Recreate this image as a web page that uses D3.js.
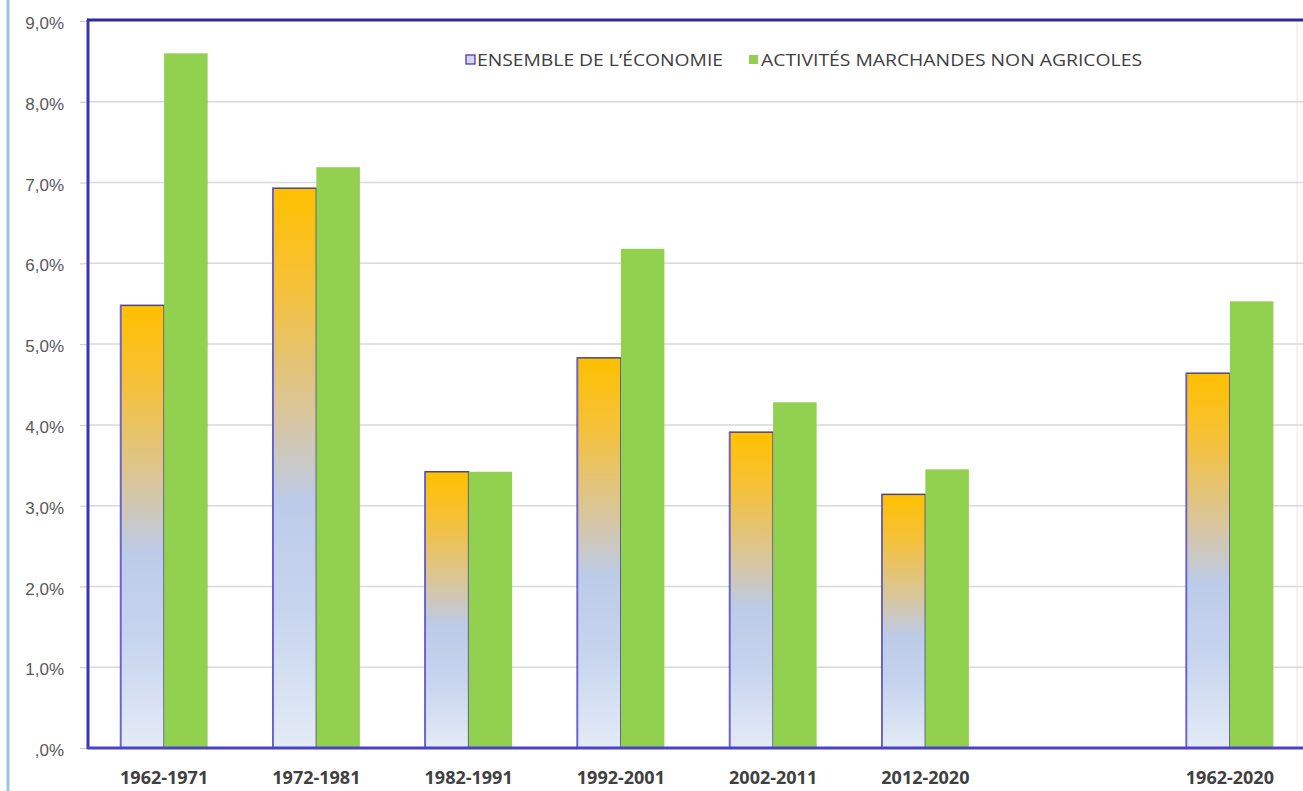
<!DOCTYPE html>
<html>
<head>
<meta charset="utf-8">
<script src="https://cdn.jsdelivr.net/npm/d3@7"></script>
<style>
  body { margin: 0; background: #fff; }
  svg { display: block; font-family: "Open Sans", "Liberation Sans", sans-serif; }
</style>
</head>
<body>
<svg class="visual" width="1303" height="791"></svg>
<script>
// Periods (the empty slot keeps the gap before the full-period bars)
const categories = ["1962-1971", "1972-1981", "1982-1991", "1992-2001", "2002-2011", "2012-2020", "", "1962-2020"];
// Growth rates in %
const economie   = [5.48, 6.93, 3.42, 4.83, 3.91, 3.14, null, 4.64];
const marchandes = [8.60, 7.19, 3.42, 6.18, 4.28, 3.45, null, 5.53];
const seriesNames = ["ENSEMBLE DE L\u2019\u00c9CONOMIE", "ACTIVIT\u00c9S MARCHANDES NON AGRICOLES"];
const yTicks = [0, 1, 2, 3, 4, 5, 6, 7, 8, 9];

const svg = d3.select(".visual");

// plot area
const plot = {left: 88, right: 1306, top: 21, bottom: 748};

const x = d3.scaleBand().domain(categories).range([plot.left, plot.right]);
const x1 = d3.scaleBand().domain([0, 1]).range([0, x.bandwidth()]).paddingOuter(0.75);
const y = d3.scaleLinear().domain([0, 9]).range([plot.bottom, plot.top]);

const pct = d => d === 0 ? ",0%" : d.toFixed(1).replace(".", ",") + "%";

// gradient for the "ensemble" bars
const defs = svg.append("defs");
const grad = defs.append("linearGradient")
    .attr("id", "ecoGrad")
    .attr("x1", 0).attr("y1", 0).attr("x2", 0).attr("y2", 1);
[[0, "#ffc000"], [0.18, "#f5c13a"], [0.42, "#d6c6a4"], [0.56, "#bccbe8"], [0.75, "#c6d4ee"], [1, "#e4ebf6"]]
    .forEach(s => grad.append("stop").attr("offset", s[0]).attr("stop-color", s[1]));

// page border on the left
svg.append("line")
    .attr("x1", 8).attr("x2", 8).attr("y1", 0).attr("y2", 791)
    .attr("stroke", "#9dc3e6").attr("stroke-width", 3);

// faint right border
svg.append("line")
    .attr("x1", 1297).attr("x2", 1297).attr("y1", plot.top).attr("y2", plot.bottom)
    .attr("stroke", "#e4e4f4").attr("stroke-width", 1);

// gridlines
svg.append("g")
    .selectAll("line")
    .data(yTicks.filter(d => d > 0 && d < 9))
    .join("line")
    .attr("x1", plot.left).attr("x2", plot.right)
    .attr("y1", d => y(d)).attr("y2", d => y(d))
    .attr("stroke", "#d9d9d9").attr("stroke-width", 1.5);

// y axis
const yAxis = svg.append("g")
    .attr("transform", `translate(${plot.left},0)`)
    .call(d3.axisLeft(y).tickValues(yTicks).tickFormat(pct).tickSize(8).tickPadding(16));
yAxis.select(".domain").remove();
yAxis.selectAll(".tick line").attr("stroke", "#c8c8c8");
yAxis.selectAll(".tick text")
    .attr("fill", "#595959")
    .attr("dy", "0.45em")
    .style("font-size", "17px");

// bars
const groups = svg.append("g")
    .selectAll("g")
    .data(categories.map((c, i) => ({cat: c, vals: [economie[i], marchandes[i]]})))
    .join("g")
    .attr("transform", d => `translate(${x(d.cat)},0)`);

groups.selectAll("rect")
    .data(d => d.vals.map((v, k) => ({k: k, v: v})).filter(e => e.v != null))
    .join("rect")
    .attr("x", e => x1(e.k))
    .attr("width", x1.bandwidth())
    .attr("y", e => y(e.v))
    .attr("height", e => y(0) - y(e.v))
    .attr("fill", e => e.k === 0 ? "url(#ecoGrad)" : "#92d050")
    .attr("stroke", e => e.k === 0 ? "#4b4680" : "none")
    .attr("stroke-width", 1.5);

// left edge of the ensemble bars is more blue
groups.selectAll("line.edge")
    .data(d => d.vals[0] != null ? [d.vals[0]] : [])
    .join("line")
    .attr("class", "edge")
    .attr("x1", x1(0)).attr("x2", x1(0))
    .attr("y1", v => y(v)).attr("y2", y(0))
    .attr("stroke", "#6a5fe0").attr("stroke-width", 1.5);

// frame: left, top and bottom
svg.append("line")
    .attr("x1", plot.left).attr("x2", plot.left).attr("y1", plot.top - 1).attr("y2", plot.bottom + 1)
    .attr("stroke", "#3c34b0").attr("stroke-width", 3);
svg.append("line")
    .attr("x1", plot.left - 1).attr("x2", 1303).attr("y1", plot.top - 1).attr("y2", plot.top - 1)
    .attr("stroke", "#2e2a9e").attr("stroke-width", 3);
svg.append("line")
    .attr("x1", plot.left - 1).attr("x2", 1303).attr("y1", plot.bottom).attr("y2", plot.bottom)
    .attr("stroke", "#4a42c8").attr("stroke-width", 3);

// x labels
svg.append("g")
    .selectAll("text")
    .data(categories)
    .join("text")
    .attr("x", d => x(d) + x.bandwidth() / 2)
    .attr("y", 784)
    .attr("text-anchor", "middle")
    .attr("fill", "#404040")
    .style("font-size", "18px")
    .style("font-weight", "bold")
    .text(d => d);

// legend
const legend = svg.append("g").attr("transform", "translate(465,60)");
const legX = [0, 284];
const legW = [246, 381];
legend.selectAll("rect")
    .data(seriesNames)
    .join("rect")
    .attr("x", (d, i) => legX[i] + (i === 0 ? 1 : 0))
    .attr("y", -5)
    .attr("width", 9).attr("height", 9)
    .attr("fill", (d, i) => i === 0 ? "#d6d4f2" : "#92d050")
    .attr("stroke", (d, i) => i === 0 ? "#3c34a0" : "none")
    .attr("stroke-width", 1.2);
legend.selectAll("text")
    .data(seriesNames)
    .join("text")
    .attr("x", (d, i) => legX[i] + 12)
    .attr("y", 6)
    .attr("fill", "#404040")
    .attr("textLength", (d, i) => legW[i])
    .attr("lengthAdjust", "spacingAndGlyphs")
    .style("font-size", "17px")
    .text(d => d);
</script>
</body>
</html>
